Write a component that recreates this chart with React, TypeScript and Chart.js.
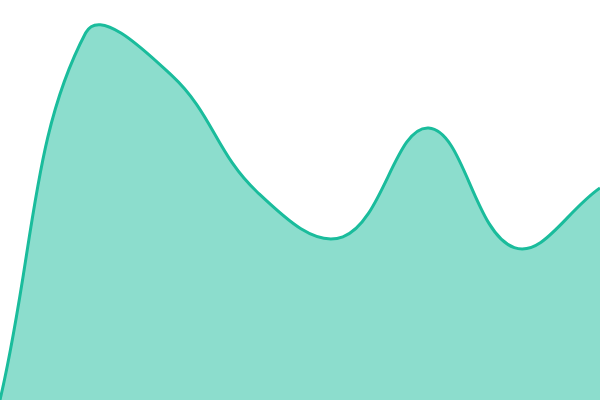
import { useEffect, useRef } from 'react';
import { Chart, registerables } from 'chart.js';

Chart.register(...registerables);

// eight evenly spaced categories, axes are hidden in the reference
const labels = ['1', '2', '3', '4', '5', '6', '7', '8'];
const values = [0, 91.8, 81.2, 52, 40.8, 68, 38.1, 53];

const LINE_COLOR = '#1abc9c';
const FILL_COLOR = 'rgba(26, 188, 156, 0.5)';

export default function App() {
  const chartRef = useRef<HTMLCanvasElement>(null);
  const chartInstance = useRef<Chart | null>(null);

  useEffect(() => {
    if (!chartRef.current) return;
    if (chartInstance.current) chartInstance.current.destroy();

    const ctx = chartRef.current.getContext('2d');
    if (!ctx) return;

    chartInstance.current = new Chart(ctx, {
      type: 'line',
      data: {
        labels,
        datasets: [{
          data: values,
          borderColor: LINE_COLOR,
          backgroundColor: FILL_COLOR,
          borderWidth: 3,
          fill: 'origin',
          pointRadius: 0,
          tension: 0.4,
        }]
      },
      options: {
        animation: false,
        responsive: true,
        maintainAspectRatio: false,
        layout: { padding: 0 },
        plugins: {
          legend: { display: false },
          tooltip: { enabled: false },
        },
        scales: {
          x: { display: false, offset: false },
          y: { min: 0, max: 100, display: false },
        },
      },
    } as any);

    return () => {
      if (chartInstance.current) {
        chartInstance.current.destroy();
        chartInstance.current = null;
      }
    };
  }, []);

  return (
    <div style={{ position: 'absolute', left: 0, top: 0, width: 600, height: 400 }}>
      <canvas ref={chartRef} />
    </div>
  );
}
